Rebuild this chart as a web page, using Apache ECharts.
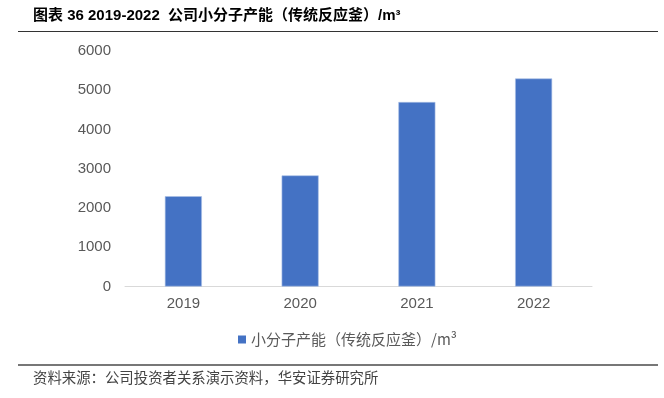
<!DOCTYPE html>
<html><head><meta charset="utf-8">
<script src="https://cdn.jsdelivr.net/npm/echarts@6/dist/echarts.min.js"></script>
<style>html,body{margin:0;padding:0;background:#fff}#c{width:664px;height:398px}</style>
</head><body><div id="c"></div>
<script>
var categories = ['2019', '2020', '2021', '2022'];
var capacity = [2300, 2830, 4700, 5300];
var yTicks = [0, 1000, 2000, 3000, 4000, 5000, 6000];
var seriesName = '小分子产能（传统反应釜）/m³';
var titleText = '图表 36 2019-2022  公司小分子产能（传统反应釜）/m³';
var sourceText = '资料来源：公司投资者关系演示资料，华安证券研究所';

var chart = echarts.init(document.getElementById('c'), null, {renderer: 'canvas'});
chart.setOption({
  animation: false,
  backgroundColor: '#fff',
  textStyle: {fontFamily: 'Arial, "Liberation Sans", "Noto Sans CJK SC", sans-serif'},
  graphic: [
    {type: 'text', left: 33, top: 8, style: {text: titleText, font: 'bold 15px "Liberation Sans", "Noto Sans CJK SC", sans-serif', fill: '#000'}},
    {type: 'line', shape: {x1: 18, y1: 31.5, x2: 658, y2: 31.5}, style: {stroke: '#333', lineWidth: 1}},
    {type: 'line', shape: {x1: 18, y1: 365, x2: 658, y2: 365}, style: {stroke: '#777', lineWidth: 2}},
    {type: 'text', left: 33, top: 370, style: {text: sourceText, font: '14.4px "Noto Sans CJK SC", sans-serif', fill: '#444'}}
  ],
  legend: {
    data: [seriesName],
    left: 233, top: 327,
    itemWidth: 8, itemHeight: 8, itemGap: 6,
    icon: 'rect',
    itemStyle: {borderWidth: 0},
    textStyle: {fontSize: 15, color: '#595959', fontFamily: '"Noto Sans CJK SC", sans-serif'}
  },
  grid: {left: 125, right: 72, top: 51, bottom: 111.5, containLabel: false},
  xAxis: {
    type: 'category', data: categories,
    axisLine: {lineStyle: {color: '#D9D9D9', width: 1}},
    axisTick: {show: false},
    axisLabel: {color: '#595959', fontSize: 15, margin: 10, fontFamily: 'Arial, "Liberation Sans", sans-serif'}
  },
  yAxis: {
    type: 'value', min: yTicks[0], max: yTicks[yTicks.length - 1], interval: 1000,
    axisLine: {show: false}, axisTick: {show: false},
    splitLine: {show: false},
    axisLabel: {color: '#595959', fontSize: 15, margin: 14, formatter: function (v) { return String(v); }, fontFamily: 'Arial, "Liberation Sans", sans-serif'}
  },
  series: [{
    name: seriesName, type: 'bar', data: capacity, barWidth: 37,
    itemStyle: {color: '#4472C4', borderColor: '#A9BFE6', borderWidth: 0.6}
  }]
});
</script></body></html>
